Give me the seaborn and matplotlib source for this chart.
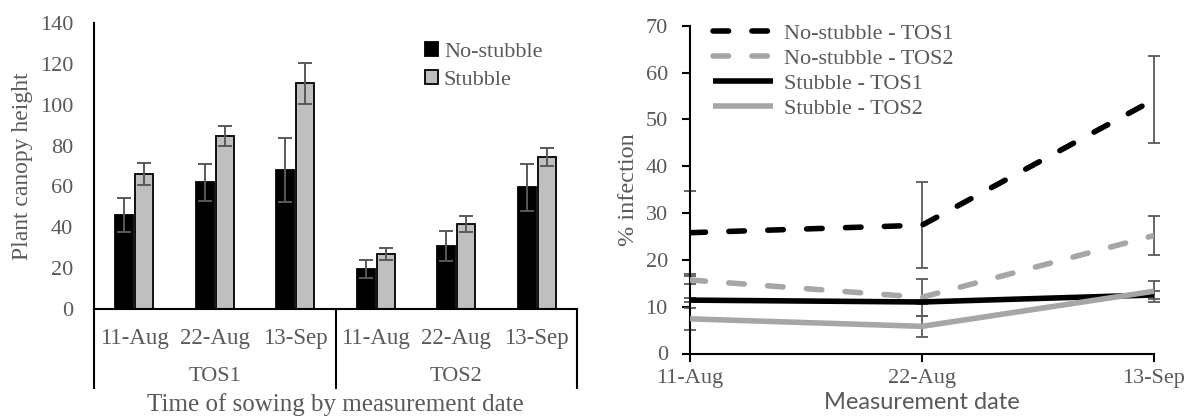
import numpy as np
import pandas as pd
import matplotlib
matplotlib.use("Agg")
import matplotlib.pyplot as plt
import matplotlib.transforms as mtransforms
import seaborn as sns

# ---------------- data ----------------
tos_groups = ["TOS1", "TOS2"]
dates = ["11-Aug", "22-Aug", "13-Sep"]
treatments = ["No-stubble", "Stubble"]

# plant canopy height (left chart), order: TOS1 dates then TOS2 dates
height_nostubble = [46, 62, 68, 19.6, 30.8, 59.5]
height_stubble = [66, 84.7, 110.5, 27.1, 41.6, 74.4]
height_nostubble_err = [8.5, 9, 15.8, 4.4, 7.2, 11.4]
height_stubble_err = [5.5, 5, 10, 3, 4.1, 4.6]

# % infection (right chart)
line_series = ["No-stubble - TOS1", "No-stubble - TOS2", "Stubble - TOS1", "Stubble - TOS2"]
inf_ns_tos1 = [25.8, 27.4, 54.2]
inf_ns_tos2 = [15.7, 12.0, 25.2]
inf_s_tos1 = [11.4, 11.0, 12.5]
inf_s_tos2 = [7.4, 5.8, 13.3]
inf_ns_tos1_err = [8.9, 9.2, 9.3]
inf_ns_tos2_err = [0.9, 3.9, 4.1]
inf_s_tos1_err = [0.5, 0.5, 0.8]
inf_s_tos2_err = [2.3, 2.3, 2.2]

# ---------------- style ----------------
sns.set_theme(style="white")
plt.rcParams["font.family"] = ["Liberation Serif", "DejaVu Serif"]
TXT = "#595959"
GRAY = "#A6A6A6"

fig = plt.figure(figsize=(11.86, 4.16), dpi=100)
W, H = 1186, 416

# ================= left chart =================
axL = fig.add_axes([94 / W, (H - 309) / H, 483 / W, 286 / H])
cats = [f"{t} {d}" for t in tos_groups for d in dates]
dfL = pd.DataFrame({
    "cat": cats * 2,
    "Treatment": [treatments[0]] * len(cats) + [treatments[1]] * len(cats),
    "height": height_nostubble + height_stubble,
})
sns.barplot(data=dfL, x="cat", y="height", hue="Treatment", order=cats,
            hue_order=treatments, palette={"No-stubble": "black", "Stubble": "#BFBFBF"},
            width=0.5, gap=0.12, errorbar=None, edgecolor="black", linewidth=1.3,
            ax=axL, legend=True)
for cont, errs in zip(axL.containers, [height_nostubble_err, height_stubble_err]):
    xs = [p.get_x() + p.get_width() / 2 for p in cont.patches]
    ys = [p.get_height() for p in cont.patches]
    axL.errorbar(xs, ys, yerr=errs, fmt="none", ecolor="#595959", elinewidth=1.4,
                 capsize=5, capthick=1.4, zorder=5)

axL.set_xlim(-0.5, len(cats) - 0.5)
axL.set_ylim(0, 140)
axL.set_yticks(np.arange(0, 141, 20))
axL.set_xticks(range(len(cats)))
axL.set_xticklabels(dates * len(tos_groups))
axL.tick_params(axis="both", length=0, labelsize=16, labelcolor=TXT)
axL.tick_params(axis="x", labelsize=16.5, pad=14)
axL.tick_params(axis="y", pad=15)
for s in ["top", "right"]:
    axL.spines[s].set_visible(False)
for s in ["left", "bottom"]:
    axL.spines[s].set_color("black")
    axL.spines[s].set_linewidth(1.5)
axL.set_xlabel("")
axL.set_ylabel("Plant canopy height", fontsize=17, color=TXT, labelpad=5)

trans = mtransforms.blended_transform_factory(axL.transData, axL.transAxes)
n = len(dates)
for k in range(len(tos_groups) + 1):
    xb = k * n - 0.5
    axL.plot([xb, xb], [0, -0.28], transform=trans, color="black", lw=1.5,
             clip_on=False, solid_capstyle="butt")
for k, t in enumerate(tos_groups):
    axL.text(k * n + (n - 1) / 2, -0.235, t, transform=trans, ha="center",
             va="center", fontsize=16, color=TXT)
axL.text(0.5, -0.335, "Time of sowing by measurement date", transform=axL.transAxes,
         ha="center", va="center", fontsize=18, color=TXT)

hL, lL = axL.get_legend_handles_labels()
axL.legend(hL, lL, loc="upper left", bbox_to_anchor=(0.667, 0.965), frameon=False,
           fontsize=16, handlelength=0.6, handleheight=0.6, handletextpad=0.25,
           labelspacing=0.38, labelcolor=TXT, borderaxespad=0)

# ================= right chart =================
axR = fig.add_axes([690 / W, (H - 353.5) / H, 464 / W, 327.8 / H])
vals = [inf_ns_tos1, inf_ns_tos2, inf_s_tos1, inf_s_tos2]
errs = [inf_ns_tos1_err, inf_ns_tos2_err, inf_s_tos1_err, inf_s_tos2_err]
dfR = pd.DataFrame({
    "idx": list(range(len(dates))) * len(line_series),
    "val": sum(vals, []),
    "series": sum([[s] * len(dates) for s in line_series], []),
})
pal = {line_series[0]: "black", line_series[1]: GRAY,
       line_series[2]: "black", line_series[3]: GRAY}
dash = {line_series[0]: (2.8, 4.2), line_series[1]: (2.8, 4.2),
        line_series[2]: "", line_series[3]: ""}

for s, e, v in zip(line_series, errs, vals):
    axR.errorbar(range(len(dates)), v, yerr=e, fmt="none", ecolor="#595959",
                 elinewidth=1.3, capsize=4, capthick=1.3, zorder=1, clip_on=False)

sns.lineplot(data=dfR, x="idx", y="val", hue="series", style="series",
             hue_order=line_series, style_order=line_series, palette=pal,
             dashes=dash, linewidth=4, ax=axR, zorder=3)
for ln in axR.get_lines():
    ln.set_dash_capstyle("round")
    ln.set_solid_capstyle("butt")

axR.set_xlim(0, len(dates) - 1)
axR.set_ylim(0, 70)
axR.set_yticks(np.arange(0, 71, 10))
axR.set_xticks(range(len(dates)))
axR.set_xticklabels(dates)
axR.tick_params(axis="both", direction="out", length=6, width=1.5, color="black",
                labelsize=16, labelcolor=TXT, left=True, bottom=True)
axR.tick_params(axis="y", pad=10)
axR.tick_params(axis="x", pad=5)
for s in ["top", "right"]:
    axR.spines[s].set_visible(False)
for s in ["left", "bottom"]:
    axR.spines[s].set_color("black")
    axR.spines[s].set_linewidth(1.5)
axR.set_ylabel("% infection", fontsize=17.5, color=TXT, labelpad=5)
axR.set_xlabel("Measurement date", fontsize=17, color=TXT, family=["Lato", "DejaVu Sans"],
               labelpad=3)

hR, lR = axR.get_legend_handles_labels()
for h in hR:
    h.set_linewidth(4)
    h.set_dash_capstyle("round")
axR.legend(hR, lR, loc="upper left", bbox_to_anchor=(0.03, 1.035), frameon=False,
           fontsize=16, handlelength=2.7, handletextpad=0.5, labelspacing=0.2,
           labelcolor=TXT, borderaxespad=0)

fig.savefig("out.png", dpi=100)
